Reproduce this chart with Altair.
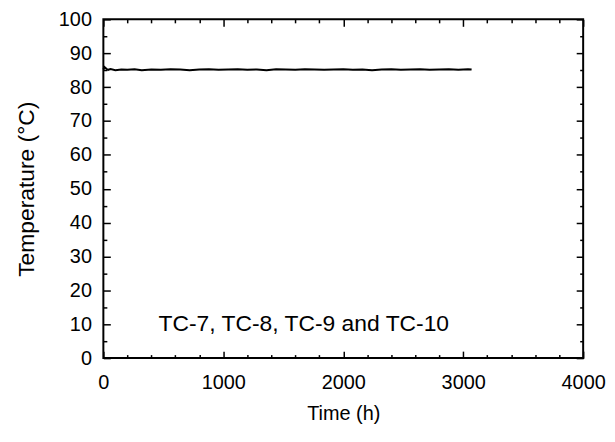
import altair as alt
import pandas as pd

# Temperature trace (TC-7..TC-10)
time_h = [0, 10, 25, 40, 60, 100, 150, 200, 260, 320, 400, 480, 560, 640, 720, 800,
          880, 960, 1040, 1120, 1200, 1280, 1360, 1440, 1520, 1600, 1680, 1760, 1840,
          1920, 2000, 2080, 2160, 2240, 2320, 2400, 2480, 2560, 2640, 2720, 2800, 2880,
          2960, 3040, 3070]
temp_c = [85.2, 85.9, 85.4, 85.1, 85.3, 85.0, 85.2, 85.1, 85.3, 85.0, 85.2, 85.1, 85.3,
          85.2, 85.0, 85.2, 85.3, 85.1, 85.2, 85.3, 85.1, 85.2, 85.0, 85.3, 85.2, 85.1,
          85.3, 85.2, 85.1, 85.2, 85.3, 85.1, 85.2, 85.0, 85.2, 85.3, 85.1, 85.2, 85.3,
          85.1, 85.2, 85.3, 85.1, 85.3, 85.2]

x_major = [0, 1000, 2000, 3000, 4000]
x_minor = [v for v in range(200, 4000, 200) if v % 1000 != 0]
y_major = list(range(0, 101, 10))
y_minor = list(range(5, 100, 10))

note_text = ["TC-7, TC-8, TC-9 and TC-10"]
note_x = [460]
note_y = [10]

FONT = "Liberation Sans"
W, H = 483, 341
MAJ, MIN = 7, 3.5

df = pd.DataFrame({"t": time_h, "T": temp_c})
notes = pd.DataFrame({"label": note_text, "x": note_x, "y": note_y})

xs = alt.Scale(domain=[0, 4000], nice=False, zero=False)
ys = alt.Scale(domain=[0, 100], nice=False, zero=False)


def tick_axis(orient, values, size, labels=False, title=None, **kw):
    args = dict(orient=orient, values=values, tickSize=size, offset=-size,
                domain=False, grid=False, labels=labels, tickColor="black",
                tickWidth=1.5, title=title)
    if title is None:
        args["title"] = None
    args.update(kw)
    return alt.Axis(**args)


def layer(xaxis, yaxis, visible):
    return alt.Chart(df).mark_line(
        color="black", strokeWidth=2, opacity=1 if visible else 0
    ).encode(
        x=alt.X("t:Q", scale=xs, axis=xaxis),
        y=alt.Y("T:Q", scale=ys, axis=yaxis),
    )


lab = dict(labelFont=FONT, labelFontSize=20, labelColor="black", format="d",
           titleFont=FONT, titleColor="black", titleFontWeight="normal")

l1 = layer(
    tick_axis("bottom", x_major, MAJ, labels=True, title="Time (h)",
              labelPadding=15, titlePadding=11, titleFontSize=20,
              labelFlush=False, **lab),
    tick_axis("left", y_major, MAJ, labels=True, title="Temperature (°C)",
              labelPadding=12, titlePadding=20, titleFontSize=23, **lab),
    True,
)
l2 = layer(tick_axis("top", x_major, MAJ), tick_axis("right", y_major, MAJ), False)
l3 = layer(tick_axis("bottom", x_minor, MIN), tick_axis("left", y_minor, MIN), False)
l4 = layer(tick_axis("top", x_minor, MIN), tick_axis("right", y_minor, MIN), False)

txt = alt.Chart(notes).mark_text(
    align="left", baseline="middle", font=FONT, fontSize=23, color="black"
).encode(
    x=alt.X("x:Q", scale=xs, axis=None),
    y=alt.Y("y:Q", scale=ys, axis=None),
    text="label:N",
)

chart = alt.layer(l1, l2, l3, l4, txt).resolve_axis(
    x="independent", y="independent"
).properties(
    width=W, height=H,
    autosize=alt.AutoSizeParams(type="none"),
    padding={"left": 96, "top": 10, "right": 24, "bottom": 76},
    background="white",
).configure_view(stroke="black", strokeWidth=2)

chart.save("out.html", embed_options={"renderer": "svg", "actions": False})
